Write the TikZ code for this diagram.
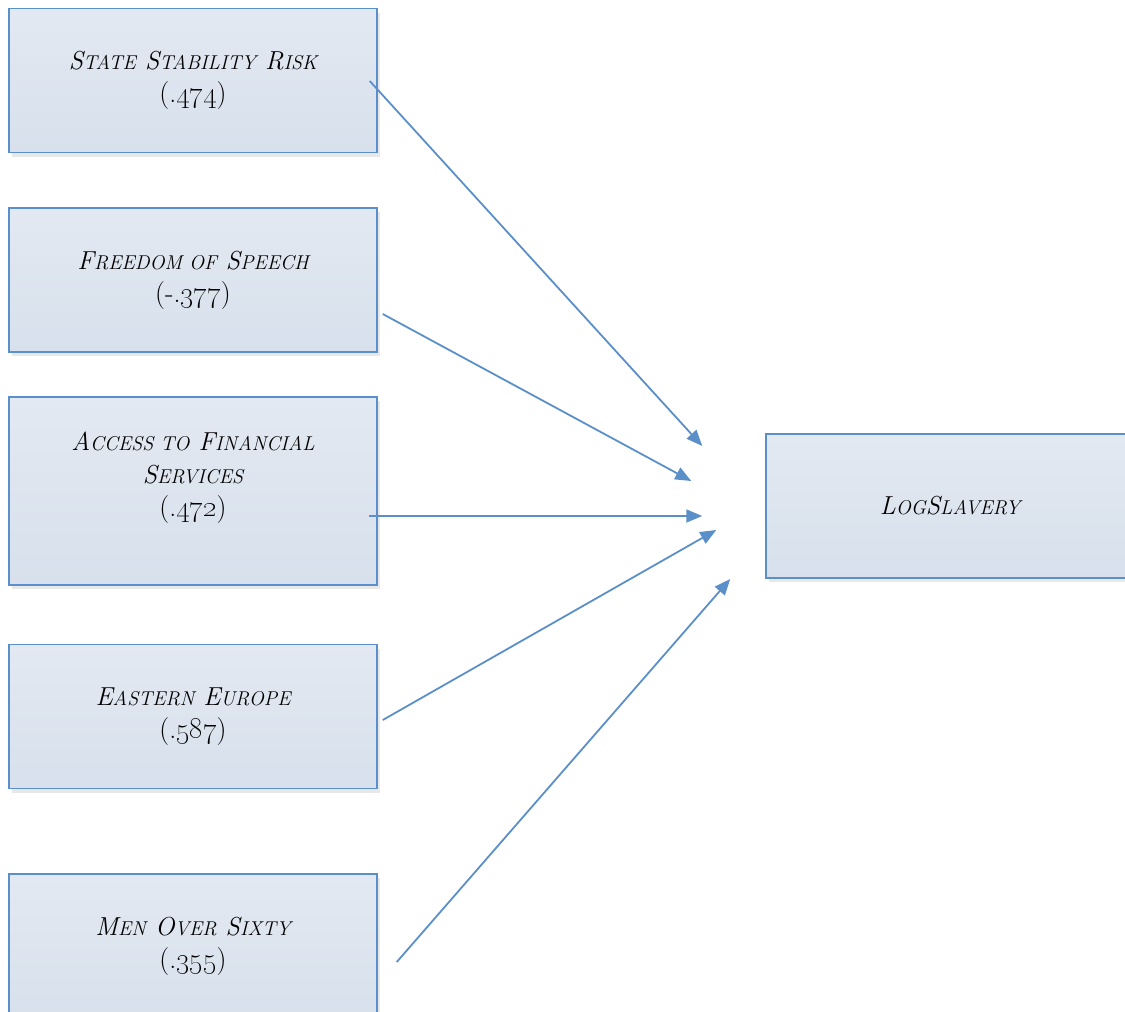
\documentclass[tikz,border=0pt]{standalone}
\usepackage{tikz}
\usetikzlibrary{arrows.meta, shadows, calc}

\definecolor{boxline}{RGB}{91,143,201}
\definecolor{boxtop}{RGB}{227,233,242}
\definecolor{boxbot}{RGB}{215,224,236}

\newcommand{\sm}[1]{{\fontsize{20}{33}\selectfont #1}}
\newcommand{\val}[1]{{\fontsize{28}{33}\selectfont #1}}

\begin{document}
\begin{tikzpicture}[x=1pt, y=-1pt,
    varbox/.style={draw=boxline, line width=1.5pt, top color=boxtop, bottom color=boxbot,
      minimum width=368pt, minimum height=144pt, align=center,
      font=\fontsize{26}{33}\selectfont,
      drop shadow={shadow xshift=3pt, shadow yshift=-4pt, fill=black!30, opacity=0.3}},
    effect/.style={draw=boxline, line width=1.8pt, -{Triangle[length=16pt, width=13pt]}}]
    \useasboundingbox (0,0) rectangle (1125,1012);
    \node[varbox] (ssr) at (193, 80.5) {\itshape S\sm{TATE} S\sm{TABILITY} R\sm{ISK}\\\val{(.\oldstylenums{474})}};
    \node[varbox] (fos) at (193, 280) {\itshape F\sm{REEDOM OF} S\sm{PEECH}\\\val{(-.\oldstylenums{377})}};
    \node[varbox, minimum height=188pt] (afs) at (193, 491) {\itshape A\sm{CCESS TO} F\sm{INANCIAL}\\\itshape S\sm{ERVICES}\\\val{(.\oldstylenums{472})}\\\mbox{}};
    \node[varbox] (ee) at (193, 716.5) {\itshape E\sm{ASTERN} E\sm{UROPE}\\\val{(.\oldstylenums{587})}};
    \node[varbox] (mos) at (193, 946) {\itshape M\sm{EN} O\sm{VER} S\sm{IXTY}\\\val{(.\oldstylenums{355})}};
    \node[varbox] (logs) at (950, 506) {\itshape L\sm{OG}S\sm{LAVERY}};
    \draw[effect] ($(ssr.east) + (-8, 0.5)$) -- ($(logs.west) + (-63, -60)$);
    \draw[effect] ($(fos.east) + (5, 34)$) -- ($(logs.west) + (-74, -25)$);
    \draw[effect] ($(afs.east) + (-9, 25)$) -- ($(logs.west) + (-63, 10)$);
    \draw[effect] ($(ee.east) + (5, 3.5)$) -- ($(logs.west) + (-49, 24)$);
    \draw[effect] ($(mos.east) + (19, 16)$) -- ($(logs.west) + (-35, 73)$);
  \end{tikzpicture}
\end{document}
